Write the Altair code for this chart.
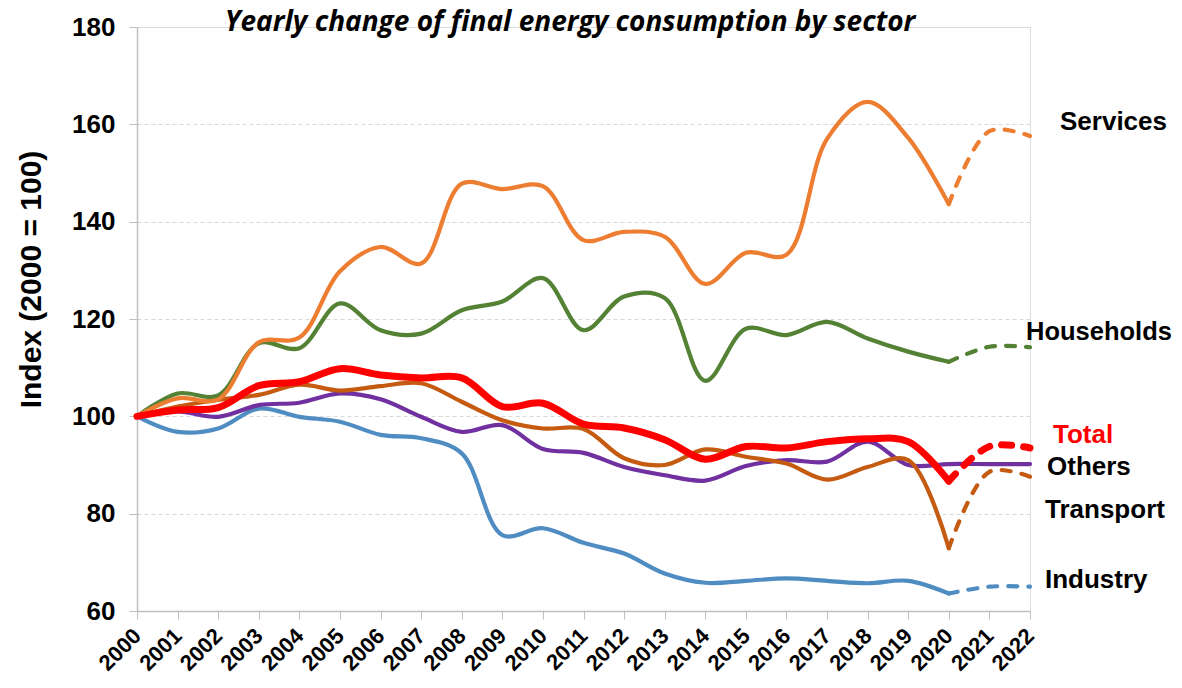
import altair as alt
import pandas as pd

years = list(range(2000, 2023))

services = [100, 103.7, 103.5, 115.2, 116.2, 129.8, 134.8, 131.4, 147.8, 146.7, 147.3,
            136.2, 137.9, 136.9, 127.2, 133.6, 133.2, 157.0, 164.6, 157.2, 143.6, 158.6, 157.6]
households = [100, 104.7, 104.3, 115.0, 114.0, 123.2, 117.7, 117.0, 121.8, 123.6, 128.4,
              117.7, 124.6, 124.3, 107.3, 118.0, 116.7, 119.4, 116.0, 113.3, 111.2, 114.3, 114.2]
total = [100, 101.3, 101.8, 106.3, 107.1, 109.8, 108.5, 107.9, 107.9, 102.0, 102.7,
         98.4, 97.6, 95.2, 91.2, 93.8, 93.5, 94.8, 95.4, 94.8, 86.7, 93.8, 93.5]
others = [100, 101.0, 99.9, 102.3, 102.8, 104.7, 103.5, 99.9, 96.8, 98.2, 93.3,
          92.5, 89.6, 87.9, 86.8, 89.8, 91.0, 90.7, 94.8, 90.0, 90.2, 90.2, 90.2]
transport = [100, 102.0, 103.4, 104.4, 106.5, 105.3, 106.2, 106.8, 103.0, 99.2, 97.5,
             97.4, 91.4, 90.0, 93.2, 91.7, 90.3, 87.0, 89.6, 91.0, 72.9, 88.6, 87.6]
industry = [100, 96.8, 97.5, 101.6, 99.9, 98.9, 96.2, 95.5, 92.4, 75.6, 77.0,
            74.0, 71.8, 67.7, 65.8, 66.2, 66.7, 66.2, 65.7, 66.2, 63.6, 65.0, 65.0]

series_names = ["Industry", "Others", "Transport", "Households", "Services", "Total"]
series_values = [industry, others, transport, households, services, total]
series_colors = ["#4E8CC2", "#7030A0", "#C55A11", "#548235", "#ED7D31", "#FF0000"]
dashed_tail = [True, False, True, True, True, True]
last_actual_year = 2020

y_ticks = [60, 80, 100, 120, 140, 160, 180]
title_text = "Yearly change of final energy consumption by sector"

rows = []
for name, vals, dash in zip(series_names, series_values, dashed_tail):
    for yr, v in zip(years, vals):
        if (not dash) or yr <= last_actual_year:
            rows.append({"series": name, "seg": "actual", "year": yr, "value": v})
        if dash and yr >= last_actual_year:
            rows.append({"series": name, "seg": "forecast", "year": yr, "value": v})
df = pd.DataFrame(rows)

FONT = "Liberation Sans"

x_enc = alt.X("year:Q",
              scale=alt.Scale(domain=[2000, 2022], nice=False, zero=False),
              axis=alt.Axis(values=years, format="d", labelAngle=-45, labelFontSize=22,
                            labelFont=FONT, labelFontWeight="bold", labelColor="black",
                            labelAlign="right", labelBaseline="middle",
                            labelOverlap=False, labelPadding=13, tickSize=8,
                            tickColor="#BFBFBF", domainColor="#BFBFBF", domainWidth=1.5,
                            grid=False, title=None))
y_enc = alt.Y("value:Q",
              scale=alt.Scale(domain=[60, 180], nice=False, zero=False),
              axis=alt.Axis(values=y_ticks, labelFontSize=26, labelFont=FONT,
                            labelFontWeight="bold", labelColor="black", labelPadding=14,
                            tickSize=8, tickColor="#BFBFBF", domainColor="#BFBFBF",
                            domainWidth=1.5, grid=True, gridColor="#D9D9D9", gridDash=[4, 3],
                            title="Index (2000 = 100)", titleFont=FONT, titleFontSize=30,
                            titleFontWeight="bold", titleColor="black",
                            titleX=-91, titleY=252, titleAngle=-90))

layers = []
for name, color in zip(series_names, series_colors):
    width = 7 if name == "Total" else 4.2
    base = alt.Chart(df).transform_filter(alt.datum.series == name)
    layers.append(base.transform_filter(alt.datum.seg == "actual").mark_line(
        color=color, strokeWidth=width, interpolate="catmull-rom", strokeCap="round"
    ).encode(x=x_enc, y=y_enc))
    layers.append(base.transform_filter(alt.datum.seg == "forecast").mark_line(
        color=color, strokeWidth=width, interpolate="catmull-rom", strokeCap="round",
        strokeDash=[10, 12] if name == "Total" else [9, 11]
    ).encode(x=x_enc, y=y_enc))

# end labels
label_names = ["Services", "Households", "Total", "Others", "Transport", "Industry"]
label_colors = ["black", "black", "#FF0000", "black", "black", "black"]
label_sizes = [26, 25.5, 26, 26, 26, 26]
label_dx = [30, -4, 23, 17, 15, 15]
label_dy = [-14, -15, -13, 3, 33, -7]
for name, col, fs, dx, dy in zip(label_names, label_colors, label_sizes, label_dx, label_dy):
    last = series_values[series_names.index(name)][-1]
    layers.append(alt.Chart(pd.DataFrame({"year": [2022], "value": [last], "label": [name]}))
                  .mark_text(align="left", baseline="middle", dx=dx, dy=dy, font=FONT,
                             fontSize=fs, fontWeight="bold", color=col)
                  .encode(x="year:Q", y="value:Q", text="label:N"))

# chart title drawn as text overlapping the plot top
layers.append(alt.Chart(pd.DataFrame({"t": [title_text]}))
              .mark_text(align="center", baseline="middle", font="Open Sans", fontSize=28,
                         fontStyle="italic", fontWeight="bold", color="black")
              .encode(x=alt.value(433), y=alt.value(-4), text="t:N"))

chart = alt.layer(*layers).properties(
    width=893, height=584,
    autosize=alt.AutoSizeParams(type="none"),
    padding={"left": 129, "top": 19, "right": 144, "bottom": 69},
).configure_view(stroke=None).configure(background="white")

chart.save("out.html", embed_options={"renderer": "svg", "actions": False})
